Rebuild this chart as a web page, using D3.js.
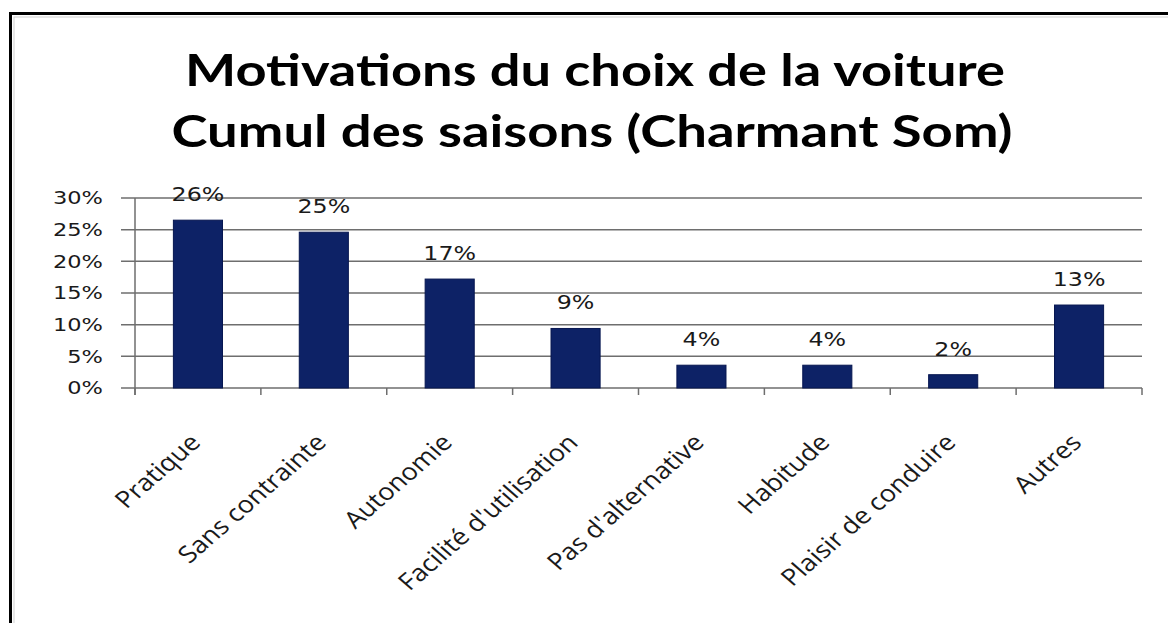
<!DOCTYPE html>
<html>
<head>
<meta charset="utf-8">
<script src="https://cdn.jsdelivr.net/npm/d3@7"></script>
<style>
  body { margin: 0; background: #fff; }
</style>
</head>
<body>
<script>
// données du graphique
const categories = ["Pratique", "Sans contrainte", "Autonomie", "Facilité d'utilisation",
  "Pas d'alternative", "Habitude", "Plaisir de conduire", "Autres"];
const values = [0.265, 0.246, 0.172, 0.094, 0.036, 0.036, 0.021, 0.131];
const labels = ["26%", "25%", "17%", "9%", "4%", "4%", "2%", "13%"];
const yTicks = [0, 0.05, 0.10, 0.15, 0.20, 0.25, 0.30];
const titleLines = ["Motivations du choix de la voiture", "Cumul des saisons (Charmant Som)"];

const W = 1168, H = 623;
const sx = 1.25; // l'image est étirée horizontalement

const svg = d3.select("body").append("svg")
  .attr("width", W)
  .attr("height", H);

svg.append("rect").attr("width", W).attr("height", H).attr("fill", "#fff");

// cadre
svg.append("rect")
  .attr("x", 10.5).attr("y", 13.5)
  .attr("width", W + 20).attr("height", H + 20)
  .attr("fill", "none").attr("stroke", "#000").attr("stroke-width", 3);
svg.append("rect")
  .attr("x", 14).attr("y", 17)
  .attr("width", W + 20).attr("height", H + 20)
  .attr("fill", "none").attr("stroke", "#d0d0d0").attr("stroke-width", 1);

// titre
svg.selectAll("text.title")
  .data(titleLines)
  .join("text")
  .attr("class", "title")
  .attr("x", (d, i) => i === 0 ? 595 : 592)
  .attr("y", (d, i) => 86 + i * 61)
  .attr("text-anchor", "middle")
  .attr("textLength", (d, i) => i === 0 ? 820 : 841)
  .attr("lengthAdjust", "spacingAndGlyphs")
  .style("font-family", "Lato, 'Open Sans', sans-serif")
  .style("font-weight", "bold")
  .style("font-size", "44px")
  .style("fill", "#000")
  .text(d => d);

const x = d3.scaleBand()
  .domain(categories)
  .range([135, 1142])
  .paddingInner(0.61)
  .paddingOuter(0.305);

const y = d3.scaleLinear()
  .domain([0, 0.3])
  .range([388, 198]);

const step = x.step();

// grille
svg.append("g")
  .selectAll("line")
  .data(yTicks)
  .join("line")
  .attr("x1", 121).attr("x2", 1142)
  .attr("y1", d => y(d)).attr("y2", d => y(d))
  .attr("stroke", "#6e6e6e")
  .attr("stroke-width", 1.5);

// axe vertical
svg.append("line")
  .attr("x1", 135).attr("x2", 135)
  .attr("y1", y(0.3)).attr("y2", y(0) + 7)
  .attr("stroke", "#6e6e6e").attr("stroke-width", 1.5);

// graduations x
svg.append("g")
  .selectAll("line")
  .data(d3.range(categories.length + 1))
  .join("line")
  .attr("x1", i => 135 + i * step).attr("x2", i => 135 + i * step)
  .attr("y1", y(0)).attr("y2", y(0) + 7)
  .attr("stroke", "#6e6e6e").attr("stroke-width", 1.5);

// étiquettes y
svg.append("g")
  .selectAll("text")
  .data(yTicks)
  .join("text")
  .attr("transform", d => `translate(103,${y(d)}) scale(${sx},1)`)
  .attr("dy", "0.36em")
  .attr("text-anchor", "end")
  .style("font-family", "'DejaVu Sans', Verdana, sans-serif")
  .style("font-size", "18px")
  .style("fill", "#1a1a1a")
  .text(d => d3.format(".0%")(d));

// barres
svg.append("g")
  .selectAll("rect")
  .data(values)
  .join("rect")
  .attr("x", (d, i) => x(categories[i]))
  .attr("y", d => y(d))
  .attr("width", x.bandwidth())
  .attr("height", d => y(0) - y(d))
  .attr("fill", "#0d2266")
  .attr("stroke", "#061650")
  .attr("stroke-width", 1);

// valeurs
svg.append("g")
  .selectAll("text")
  .data(values)
  .join("text")
  .attr("transform", (d, i) => `translate(${x(categories[i]) + x.bandwidth() / 2},${y(d) - 19}) scale(${sx},1)`)
  .attr("text-anchor", "middle")
  .style("font-family", "'DejaVu Sans', Verdana, sans-serif")
  .style("font-size", "19px")
  .style("fill", "#1a1a1a")
  .text((d, i) => labels[i]);

// catégories
svg.append("g")
  .selectAll("text")
  .data(categories)
  .join("text")
  .attr("transform", d => `translate(${x(d) + x.bandwidth() / 2 + 4},${y(0) + 56}) scale(1.15,1) rotate(-45)`)
  .attr("text-anchor", "end")
  .style("font-family", "'Open Sans', sans-serif")
  .style("font-size", "23.5px")
  .style("fill", "#1a1a1a")
  .text(d => d);
</script>
</body>
</html>
